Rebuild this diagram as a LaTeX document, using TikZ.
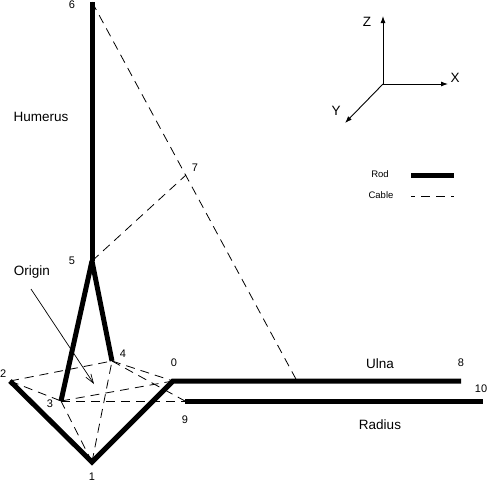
\documentclass[tikz,border=0pt]{standalone}
\usepackage{fontspec}
\setmainfont{Liberation Sans}
\usetikzlibrary{arrows.meta,positioning,calc}
\tikzset{
  rod/.style={line width=5pt, line cap=butt, line join=miter},
  cable/.style={line width=0.8pt, dash pattern=on 9pt off 6pt},
  axis/.style={-{Latex[length=7pt,width=5pt]}, line width=0.9pt},
  pointer/.style={-{Straight Barb[length=9pt,width=6pt]}, line width=0.7pt},
  marklabel/.style={font=\fontsize{11}{13}\selectfont, inner sep=0pt},
  partlabel/.style={font=\fontsize{13.5}{15}\selectfont, inner sep=0pt},
  keylabel/.style={font=\fontsize{9.5}{11}\selectfont, inner sep=0pt}
}

\begin{document}
\begin{tikzpicture}[x=1pt,y=-1pt]
  \useasboundingbox (0,0) rectangle (488,482);

  \coordinate (p0) at (173,381);
  \coordinate (p1) at (92,462);
  \coordinate (p2) at (10,381);
  \coordinate (p3) at (61,401);
  \coordinate (p4) at (112,361);
  \coordinate (p5) at (92,261);
  \coordinate (p6) at (92,2);
  \coordinate (p7) at (186,175);
  \coordinate (p8) at (461,381);
  \coordinate (p9) at (185,401);
  \coordinate (p10) at (483,401);
  \coordinate (pull) at (297,381);
  \coordinate (axes) at (383,84);

  % rods
  \draw[rod] (p6) -- (p5);
  \draw[rod] (p5) -- (p3);
  \draw[rod] (p5) -- (p4);
  \draw[rod] (p2) -- (p1) -- (p0) -- (p8);
  \draw[rod] (p9) -- (p10);

  % cables
  \draw[cable] (p6) -- (pull);
  \draw[cable] (p5) -- (p7);
  \draw[cable] (p2) -- (p4);
  \draw[cable] (p2) -- (p3);
  \draw[cable] (p3) -- (p0);
  \draw[cable] (p3) -- (p9);
  \draw[cable] (p4) -- (p0);
  \draw[cable] (p4) -- (p9);
  \draw[cable] (p1) -- (p3);
  \draw[cable] (p1) -- (p4);

  \node[marklabel] (m0) at (174,363) {0};
  \node[marklabel] (m1) at (92,477) {1};
  \node[marklabel] (m2) at (3.2,374) {2};
  \node[marklabel] (m3) at (50,404) {3};
  \node[marklabel] (m4) at (123,354) {4};
  \node[marklabel] (m5) at (72,261) {5};
  \node[marklabel] (m6) at (72,5) {6};
  \node[marklabel] (m7) at (195,168) {7};
  \node[marklabel] (m8) at (461,363) {8};
  \node[marklabel] (m9) at (185,420) {9};
  \node[marklabel] (m10) at (481,389) {10};

  \node[partlabel] (humerus) at (41,117) {Humerus};
  \node[partlabel] (ulna) at (380,364) {Ulna};
  \node[partlabel] (radius) at (380,425) {Radius};
  \node[partlabel] (origin) at (32,272) {Origin};
  \coordinate (otail) at (31,289);
  \coordinate (ohead) at (94,384);
  \draw[pointer] (otail) -- (ohead);

  % axes
  \coordinate (zend) at (383,16);
  \coordinate (xend) at (448,84);
  \coordinate (yend) at (345,123);
  \draw[axis] (axes) -- (zend);
  \draw[axis] (axes) -- (xend);
  \draw[axis] (axes) -- (yend);
  \node[partlabel] (zlab) at (367,22) {Z};
  \node[partlabel] (xlab) at (455,78) {X};
  \node[partlabel] (ylab) at (336,111) {Y};

  % key
  \node[keylabel] (rodkey) at (380,174) {Rod};
  \node[keylabel] (cablekey) at (381,195) {Cable};
  \coordinate (r1) at (411,175);
  \coordinate (r2) at (454,175);
  \coordinate (c1) at (411,196);
  \coordinate (c2) at (454,196);
  \draw[rod] (r1) -- (r2);
  \draw[cable, dash phase=5pt] (c1) -- (c2);
\end{tikzpicture}
\end{document}
